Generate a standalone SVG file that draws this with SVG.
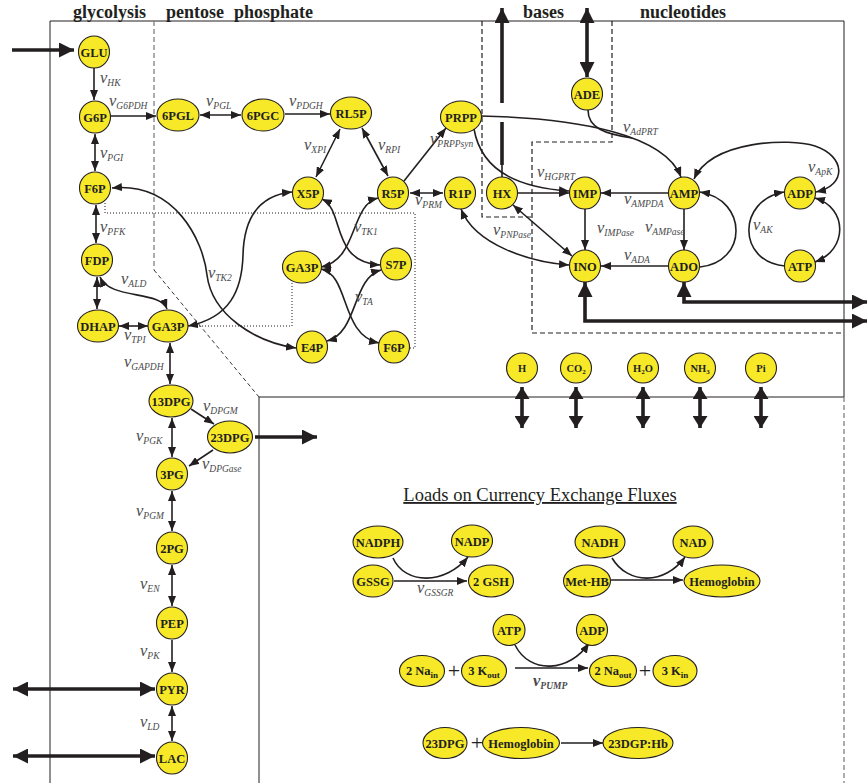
<svg xmlns="http://www.w3.org/2000/svg" width="867" height="783" viewBox="0 0 867 783">
<style>
.n ellipse{fill:#F7E928;stroke:#231F20;stroke-width:1.1}
.n text{font-family:"Liberation Serif","Times New Roman",serif;font-weight:bold;font-size:12.5px;fill:#231F20;text-anchor:middle}
.sm text{font-size:10.5px}
.c path{fill:none;stroke:#231F20;stroke-width:1.6}
.c .k{stroke-width:3.6}
.v{font-family:"Liberation Serif","Times New Roman",serif;font-style:italic;font-size:16.5px;fill:#4a4a4c}
.v tspan{font-size:9.5px}
.h{font-family:"Liberation Serif","Times New Roman",serif;font-weight:bold;font-size:18px;fill:#231F20}
.plus{font-family:"Liberation Serif","Times New Roman",serif;font-size:22px;fill:#231F20;text-anchor:middle}
</style>
<defs>
<marker id="a" viewBox="0 0 10 8" refX="10" refY="4" markerWidth="10" markerHeight="8" markerUnits="userSpaceOnUse" orient="auto-start-reverse"><path d="M0,0 L10,4 L0,8 z" fill="#231F20"/></marker>
<marker id="b" viewBox="0 0 15 15" refX="15" refY="7.5" markerWidth="15" markerHeight="15" markerUnits="userSpaceOnUse" orient="auto-start-reverse"><path d="M0,0 L15,7.5 L0,15 z" fill="#231F20"/></marker>
<marker id="s" viewBox="0 0 12 15" refX="12" refY="7.5" markerWidth="12" markerHeight="15" markerUnits="userSpaceOnUse" orient="auto-start-reverse"><path d="M0,0 L12,7.5 L0,15 z" fill="#231F20"/></marker>
</defs>

<g id="frames" fill="none">
<path d="M50,783 L50,21 L844,21 L844,397 L259,397 L259,783" stroke="#231F20" stroke-width="1"/>
<path d="M154,21 L154,270" stroke="#808080" stroke-width="1.3" stroke-dasharray="5,3"/>
<path d="M154,270 L259,397" stroke="#231F20" stroke-width="0.9" stroke-dasharray="4,3"/>
<path d="M844,397 L844,783" stroke="#808080" stroke-width="1.3" stroke-dasharray="5,3"/>
<path d="M105,203 L105,213 L415,213 L415,348 L410,348" stroke="#231F20" stroke-width="1" stroke-dasharray="1,2"/>
<path d="M292,283 L292,326 L198,326" stroke="#231F20" stroke-width="1" stroke-dasharray="1,2"/>
<path d="M482,21 L482,217 L532,217 M612,21 L612,142 L532,142 L532,333 L844,333" stroke="#231F20" stroke-width="1.2" stroke-dasharray="5,3"/>
</g>

<g id="headers" class="h">
<text x="73" y="18">glycolysis</text>
<text x="166" y="18">pentose</text>
<text x="234" y="18">phosphate</text>
<text x="523" y="18">bases</text>
<text x="640" y="18">nucleotides</text>
</g>

<g id="connectors" class="c">
<path d="M94,68 L94,100" marker-end="url(#a)"/>
<path d="M111,116 L156,116" marker-end="url(#a)"/>
<path d="M200,115 L241,115" marker-start="url(#a)" marker-end="url(#a)"/>
<path d="M285,114 L330,114" marker-end="url(#a)"/>
<path d="M95,134 L95,171" marker-start="url(#a)" marker-end="url(#a)"/>
<path d="M96,205 L96,243" marker-start="url(#a)" marker-end="url(#a)"/>
<path d="M97,277 L97,309" marker-start="url(#a)" marker-end="url(#a)"/>
<path d="M100,277 C110,300 160,290 167,309" marker-start="url(#a)" marker-end="url(#a)"/>
<path d="M119,326 L148,326" marker-start="url(#a)" marker-end="url(#a)"/>
<path d="M170,343 L170,384" marker-start="url(#a)" marker-end="url(#a)"/>
<path d="M191,409 L214,424" marker-end="url(#a)"/>
<path d="M213,450 L189,466" marker-end="url(#a)"/>
<path d="M172,418 L172,457" marker-start="url(#a)" marker-end="url(#a)"/>
<path d="M172,491 L172,531" marker-start="url(#a)" marker-end="url(#a)"/>
<path d="M172,565 L172,606" marker-start="url(#a)" marker-end="url(#a)"/>
<path d="M172,640 L172,672" marker-end="url(#a)"/>
<path d="M172,706 L172,741" marker-start="url(#a)" marker-end="url(#a)"/>
<path d="M340,129 L316,177" marker-start="url(#a)" marker-end="url(#a)"/>
<path d="M362,128 L388,176" marker-start="url(#a)" marker-end="url(#a)"/>
<path d="M404,181 L446,128" marker-end="url(#a)"/>
<path d="M410,193 L443,193" marker-start="url(#a)" marker-end="url(#a)"/>
<path d="M322,199 C345,210 330,262 380,265" marker-start="url(#a)" marker-end="url(#a)"/>
<path d="M378,198 C350,205 358,260 321,267" marker-start="url(#a)" marker-end="url(#a)"/>
<path d="M321,269 C350,275 340,335 379,343" marker-start="url(#a)" marker-end="url(#a)"/>
<path d="M381,270 C352,278 358,333 327,341" marker-start="url(#a)" marker-end="url(#a)"/>
<path d="M112,188 C175,182 203,240 207,275 C212,315 255,342 296,348" marker-start="url(#a)" marker-end="url(#a)"/>
<path d="M188,326 C230,318 242,290 243,255 C244,215 262,195 292,192" marker-start="url(#a)" marker-end="url(#a)"/>
<path d="M474,129 C482,175 525,188 569,191" marker-end="url(#a)"/>
<path d="M481,116 C580,118 665,135 681,177" marker-end="url(#a)"/>
<path d="M588,110 C588,128 605,134 632,138"/>
<path d="M518,193 L569,193" marker-end="url(#a)"/>
<path d="M668,193 L601,193" marker-end="url(#a)"/>
<path d="M585,209 L585,250" marker-end="url(#a)"/>
<path d="M684,209 L684,250" marker-end="url(#a)"/>
<path d="M668,266 L601,266" marker-end="url(#a)"/>
<path d="M513,205 L572,256" marker-start="url(#a)" marker-end="url(#a)"/>
<path d="M461,209 C475,245 530,262 569,265" marker-start="url(#a)" marker-end="url(#a)"/>
<path d="M700,267 C748,262 748,200 700,192" marker-end="url(#a)"/>
<path d="M785,266 C737,262 737,200 784,192" marker-end="url(#a)"/>
<path d="M694,179 C712,140 790,138 815,146 C845,156 848,185 816,192" marker-start="url(#a)" marker-end="url(#a)"/>
<path d="M815,198 C848,208 848,250 815,262" marker-start="url(#a)" marker-end="url(#a)"/>
<path d="M502,178 L502,165"/>
<path class="k" d="M502,165 L502,122"/>
<path class="k" d="M502,103 L502,8" marker-end="url(#b)"/>
<path class="k" d="M587,8 L587,77" marker-start="url(#b)" marker-end="url(#b)"/>
<path class="k" d="M684,282 L684,302 L867,302" marker-start="url(#b)" marker-end="url(#b)"/>
<path class="k" d="M585,282 L585,321 L867,321" marker-start="url(#b)" marker-end="url(#b)"/>
<path class="k" d="M12,50 L74,50" marker-end="url(#b)"/>
<path class="k" d="M13,689 L155,689" marker-start="url(#b)" marker-end="url(#b)"/>
<path class="k" d="M13,756 L155,756" marker-start="url(#b)" marker-end="url(#b)"/>
<path class="k" d="M255,437 L317,437" marker-end="url(#b)"/>
<path class="k" d="M522,387 L522,428" marker-start="url(#s)" marker-end="url(#s)"/>
<path class="k" d="M576,387 L576,428" marker-start="url(#s)" marker-end="url(#s)"/>
<path class="k" d="M643,387 L643,428" marker-start="url(#s)" marker-end="url(#s)"/>
<path class="k" d="M700,387 L700,428" marker-start="url(#s)" marker-end="url(#s)"/>
<path class="k" d="M761,387 L761,428" marker-start="url(#s)" marker-end="url(#s)"/>
<path d="M393,558 C405,585 445,585 468,557" marker-end="url(#a)"/>
<path d="M394,581 L467,581" marker-end="url(#a)"/>
<path d="M612,558 C628,585 665,585 685,557" marker-end="url(#a)"/>
<path d="M611,580 L683,580" marker-end="url(#a)"/>
<path d="M515,645 C530,675 570,672 589,643" marker-end="url(#a)"/>
<path d="M515,668 L588,668" marker-end="url(#a)"/>
<path d="M561,743 L603,743" marker-end="url(#a)"/>
</g>

<g id="rate-labels" class="v">
<text x="100" y="83">v<tspan dy="3">HK</tspan></text>
<text x="109" y="106">v<tspan dy="3">G6PDH</tspan></text>
<text x="100" y="158">v<tspan dy="3">PGI</tspan></text>
<text x="206" y="106">v<tspan dy="3">PGL</tspan></text>
<text x="289" y="106">v<tspan dy="3">PDGH</tspan></text>
<text x="304" y="150">v<tspan dy="3">XPI</tspan></text>
<text x="378" y="150">v<tspan dy="3">RPI</tspan></text>
<text x="430" y="144">v<tspan dy="3">PRPPsyn</tspan></text>
<text x="415" y="205">v<tspan dy="3">PRM</tspan></text>
<text x="354" y="232">v<tspan dy="3">TK1</tspan></text>
<text x="355" y="302">v<tspan dy="3">TA</tspan></text>
<text x="208" y="278">v<tspan dy="3">TK2</tspan></text>
<text x="100" y="232">v<tspan dy="3">PFK</tspan></text>
<text x="121" y="284">v<tspan dy="3">ALD</tspan></text>
<text x="124" y="340">v<tspan dy="3">TPI</tspan></text>
<text x="124" y="367">v<tspan dy="3">GAPDH</tspan></text>
<text x="203" y="411">v<tspan dy="3">DPGM</tspan></text>
<text x="136" y="441">v<tspan dy="3">PGK</tspan></text>
<text x="202" y="469">v<tspan dy="3">DPGase</tspan></text>
<text x="136" y="516">v<tspan dy="3">PGM</tspan></text>
<text x="140" y="589">v<tspan dy="3">EN</tspan></text>
<text x="140" y="656">v<tspan dy="3">PK</tspan></text>
<text x="140" y="727">v<tspan dy="3">LD</tspan></text>
<text x="623" y="132">v<tspan dy="3">AdPRT</tspan></text>
<text x="537" y="177">v<tspan dy="3">HGPRT</tspan></text>
<text x="808" y="172">v<tspan dy="3">ApK</tspan></text>
<text x="624" y="204">v<tspan dy="3">AMPDA</tspan></text>
<text x="597" y="233">v<tspan dy="3">IMPase</tspan></text>
<text x="645" y="232">v<tspan dy="3">AMPase</tspan></text>
<text x="753" y="230">v<tspan dy="3">AK</tspan></text>
<text x="493" y="235">v<tspan dy="3">PNPase</tspan></text>
<text x="624" y="260">v<tspan dy="3">ADA</tspan></text>
<text x="417" y="593">v<tspan dy="3">GSSGR</tspan></text>
<text x="533" y="686" font-weight="bold">v<tspan dy="3">PUMP</tspan></text>
</g>

<g id="n-GLU" class="n"><ellipse cx="94" cy="52" rx="15.5" ry="16"/><text x="94" y="56.5">GLU</text></g>
<g id="n-G6P" class="n"><ellipse cx="95" cy="117" rx="15.5" ry="16"/><text x="95" y="121.5">G6P</text></g>
<g id="n-F6P" class="n"><ellipse cx="95" cy="188" rx="15.5" ry="16"/><text x="95" y="192.5">F6P</text></g>
<g id="n-FDP" class="n"><ellipse cx="97" cy="260" rx="15.5" ry="16"/><text x="97" y="264.5">FDP</text></g>
<g id="n-DHAP" class="n"><ellipse cx="98" cy="326" rx="20.5" ry="16"/><text x="98" y="330.5">DHAP</text></g>
<g id="n-GA3P" class="n"><ellipse cx="168" cy="326" rx="20" ry="16"/><text x="168" y="330.5">GA3P</text></g>
<g id="n-13DPG" class="n"><ellipse cx="171" cy="401" rx="22" ry="16"/><text x="171" y="405.5">13DPG</text></g>
<g id="n-23DPG" class="n"><ellipse cx="230" cy="437" rx="22.5" ry="16"/><text x="230" y="441.5">23DPG</text></g>
<g id="n-3PG" class="n"><ellipse cx="172" cy="474" rx="15.5" ry="16"/><text x="172" y="478.5">3PG</text></g>
<g id="n-2PG" class="n"><ellipse cx="172" cy="548" rx="15.5" ry="16"/><text x="172" y="552.5">2PG</text></g>
<g id="n-PEP" class="n"><ellipse cx="172" cy="623" rx="15.5" ry="16"/><text x="172" y="627.5">PEP</text></g>
<g id="n-PYR" class="n"><ellipse cx="172" cy="689" rx="15.5" ry="16"/><text x="172" y="693.5">PYR</text></g>
<g id="n-LAC" class="n"><ellipse cx="172" cy="758" rx="15.5" ry="16"/><text x="172" y="762.5">LAC</text></g>
<g id="n-6PGL" class="n"><ellipse cx="178" cy="115" rx="21" ry="16"/><text x="178" y="119.5">6PGL</text></g>
<g id="n-6PGC" class="n"><ellipse cx="263" cy="115" rx="21" ry="16"/><text x="263" y="119.5">6PGC</text></g>
<g id="n-RL5P" class="n"><ellipse cx="351" cy="113" rx="20.5" ry="16"/><text x="351" y="117.5">RL5P</text></g>
<g id="n-PRPP" class="n"><ellipse cx="461" cy="117" rx="20.5" ry="16"/><text x="461" y="121.5">PRPP</text></g>
<g id="n-X5P" class="n"><ellipse cx="308" cy="193" rx="15.5" ry="16"/><text x="308" y="197.5">X5P</text></g>
<g id="n-R5P" class="n"><ellipse cx="393" cy="193" rx="15.5" ry="16"/><text x="393" y="197.5">R5P</text></g>
<g id="n-R1P" class="n"><ellipse cx="460" cy="193" rx="15.5" ry="16"/><text x="460" y="197.5">R1P</text></g>
<g id="n-GA3P-2" class="n"><ellipse cx="302" cy="267" rx="19.5" ry="16"/><text x="302" y="271.5">GA3P</text></g>
<g id="n-S7P" class="n"><ellipse cx="396" cy="264" rx="15.5" ry="16"/><text x="396" y="268.5">S7P</text></g>
<g id="n-E4P" class="n"><ellipse cx="312" cy="347" rx="15.5" ry="16"/><text x="312" y="351.5">E4P</text></g>
<g id="n-F6P-2" class="n"><ellipse cx="394" cy="347" rx="15.5" ry="16"/><text x="394" y="351.5">F6P</text></g>
<g id="n-HX" class="n"><ellipse cx="502" cy="193" rx="15.5" ry="16"/><text x="502" y="197.5">HX</text></g>
<g id="n-ADE" class="n"><ellipse cx="587" cy="94" rx="15.5" ry="16"/><text x="587" y="98.5">ADE</text></g>
<g id="n-IMP" class="n"><ellipse cx="585" cy="193" rx="15.5" ry="16"/><text x="585" y="197.5">IMP</text></g>
<g id="n-AMP" class="n"><ellipse cx="684" cy="193" rx="15.5" ry="16"/><text x="684" y="197.5">AMP</text></g>
<g id="n-ADP" class="n"><ellipse cx="800" cy="193" rx="15.5" ry="16"/><text x="800" y="197.5">ADP</text></g>
<g id="n-INO" class="n"><ellipse cx="585" cy="266" rx="15.5" ry="16"/><text x="585" y="270.5">INO</text></g>
<g id="n-ADO" class="n"><ellipse cx="684" cy="266" rx="15.5" ry="16"/><text x="684" y="270.5">ADO</text></g>
<g id="n-ATP" class="n"><ellipse cx="800" cy="266" rx="15.5" ry="16"/><text x="800" y="270.5">ATP</text></g>
<g id="n-H" class="n sm"><ellipse cx="522" cy="368" rx="15.5" ry="15"/><text x="522" y="372">H</text></g>
<g id="n-CO2" class="n sm"><ellipse cx="576" cy="368" rx="15.5" ry="15"/><text x="576" y="372">CO<tspan font-size="7" dy="2">2</tspan></text></g>
<g id="n-H2O" class="n sm"><ellipse cx="643" cy="368" rx="15.5" ry="15"/><text x="643" y="372">H<tspan font-size="7" dy="2">2</tspan><tspan dy="-2">O</tspan></text></g>
<g id="n-NH3" class="n sm"><ellipse cx="700" cy="368" rx="15.5" ry="15"/><text x="700" y="372">NH<tspan font-size="7" dy="2">3</tspan></text></g>
<g id="n-Pi" class="n sm"><ellipse cx="761" cy="368" rx="15.5" ry="15"/><text x="761" y="372">Pi</text></g>

<text x="540" y="501" font-family="Liberation Serif, Times New Roman, serif" font-size="18.5" fill="#231F20" text-anchor="middle" text-decoration="underline">Loads on Currency Exchange Fluxes</text>

<g id="n-NADPH" class="n"><ellipse cx="378" cy="542" rx="25" ry="16"/><text x="378" y="546.5" font-size="12">NADPH</text></g>
<g id="n-NADP" class="n"><ellipse cx="472" cy="541" rx="20.5" ry="16"/><text x="472" y="545.5" font-size="12">NADP</text></g>
<g id="n-GSSG" class="n"><ellipse cx="373" cy="581" rx="20" ry="16"/><text x="373" y="585.5" font-size="12">GSSG</text></g>
<g id="n-2GSH" class="n"><ellipse cx="491" cy="581" rx="22.5" ry="16"/><text x="491" y="585.5" font-size="12">2 GSH</text></g>
<g id="n-NADH" class="n"><ellipse cx="600" cy="542" rx="25" ry="16"/><text x="600" y="546.5" font-size="12">NADH</text></g>
<g id="n-NAD" class="n"><ellipse cx="693" cy="542" rx="20" ry="16"/><text x="693" y="546.5" font-size="12">NAD</text></g>
<g id="n-MetHB" class="n"><ellipse cx="587" cy="581" rx="23.5" ry="16"/><text x="587" y="585.5" font-size="12">Met-HB</text></g>
<g id="n-Hemoglobin" class="n"><ellipse cx="722" cy="581" rx="38" ry="16"/><text x="722" y="585.5" font-size="12">Hemoglobin</text></g>
<g id="n-ATP-2" class="n"><ellipse cx="509" cy="630" rx="16" ry="15.5"/><text x="509" y="634.5" font-size="12">ATP</text></g>
<g id="n-ADP-2" class="n"><ellipse cx="592" cy="630" rx="15.5" ry="15.5"/><text x="592" y="634.5" font-size="12">ADP</text></g>
<g id="n-2Nain" class="n"><ellipse cx="422" cy="671" rx="22.5" ry="15.5"/><text x="422" y="675" font-size="12">2 Na<tspan font-size="9" dy="3">in</tspan></text></g>
<g id="n-3Kout" class="n"><ellipse cx="484" cy="671" rx="22.5" ry="15.5"/><text x="484" y="675" font-size="12">3 K<tspan font-size="9" dy="3">out</tspan></text></g>
<g id="n-2Naout" class="n"><ellipse cx="613" cy="671" rx="23.5" ry="15.5"/><text x="613" y="675" font-size="12">2 Na<tspan font-size="9" dy="3">out</tspan></text></g>
<g id="n-3Kin" class="n"><ellipse cx="675" cy="671" rx="22" ry="15.5"/><text x="675" y="675" font-size="12">3 K<tspan font-size="9" dy="3">in</tspan></text></g>
<g id="n-23DPG-2" class="n"><ellipse cx="445" cy="743" rx="22" ry="15.5"/><text x="445" y="747.5" font-size="12">23DPG</text></g>
<g id="n-Hemoglobin-2" class="n"><ellipse cx="521" cy="743" rx="38.5" ry="15.5"/><text x="521" y="747.5" font-size="12">Hemoglobin</text></g>
<g id="n-23DGPHb" class="n"><ellipse cx="638" cy="743" rx="35" ry="15.5"/><text x="638" y="747.5" font-size="12">23DGP:Hb</text></g>

<g id="plus-signs">
<text class="plus" x="454" y="678">+</text>
<text class="plus" x="645" y="678">+</text>
<text class="plus" x="477" y="750">+</text>
</g>
</svg>
